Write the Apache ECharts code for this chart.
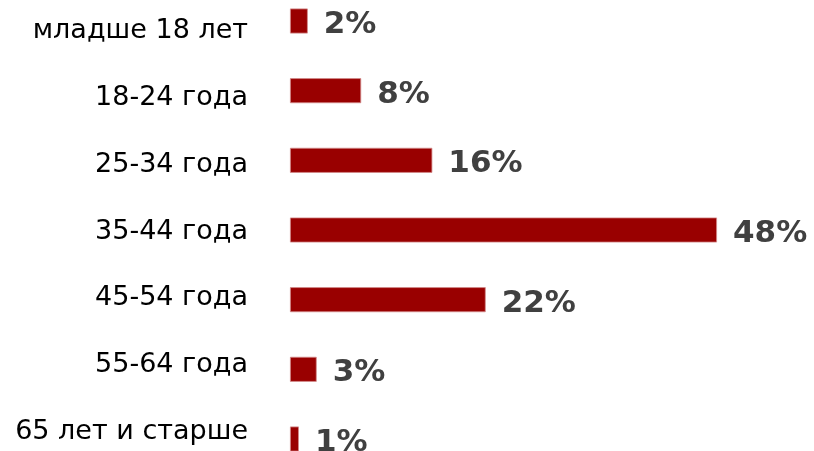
<!DOCTYPE html>
<html><head><meta charset="utf-8">
<script src="https://cdn.jsdelivr.net/npm/echarts@6/dist/echarts.min.js"></script>
<style>html,body{margin:0;padding:0;background:#fff}#c{width:814px;height:451px}</style>
</head><body><div id="c"></div>
<script>
var categories = ['младше 18 лет','18-24 года','25-34 года','35-44 года','45-54 года','55-64 года','65 лет и старше'];
var values = [2, 8, 16, 48, 22, 3, 1];
var chart = echarts.init(document.getElementById('c'));
chart.setOption({
  animation: false,
  grid: [
    {left: 290, right: 97, top: 21, height: 418, containLabel: false},
    {left: 290, right: 97, top: 31, height: 401, containLabel: false}
  ],
  xAxis: [
    {type: 'value', min: 0, max: 48, show: false, gridIndex: 0},
    {type: 'value', min: 0, max: 48, show: false, gridIndex: 1}
  ],
  yAxis: [
    {type: 'category', data: categories, inverse: true, boundaryGap: false, gridIndex: 0,
      axisLine: {show: false}, axisTick: {show: false}, splitLine: {show: false}, axisLabel: {show: false}},
    {type: 'category', data: categories, inverse: true, boundaryGap: false, gridIndex: 1,
      axisLine: {show: false}, axisTick: {show: false}, splitLine: {show: false},
      axisLabel: {margin: 42, fontFamily: 'DejaVu Sans', fontSize: 27, color: '#000', padding: [3,0,0,0]}}
  ],
  series: [{type: 'bar', data: values, barWidth: 25, xAxisIndex: 0, yAxisIndex: 0,
    itemStyle: {color: '#990000', borderColor: '#d38a8a', borderWidth: 0.8},
    label: {show: true, position: 'right', distance: 16, formatter: '{c}%', offset: [0, 4],
      fontFamily: 'DejaVu Sans', fontWeight: 'bold', fontSize: 31, color: '#404040'}}]
});
</script></body></html>
